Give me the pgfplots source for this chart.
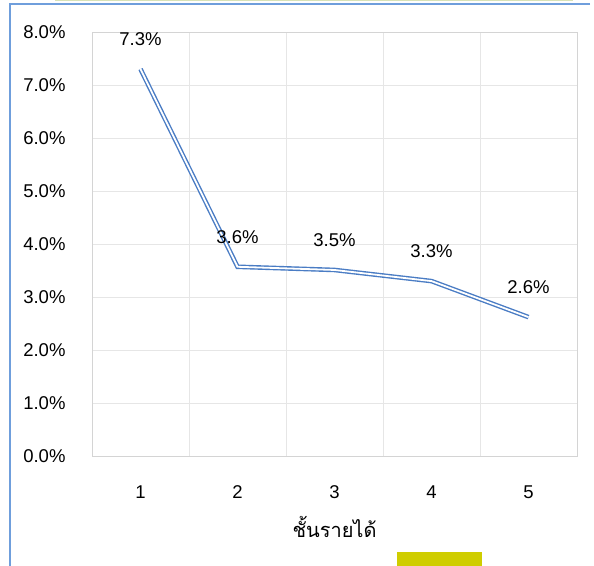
\documentclass[border=0pt]{standalone}
\usepackage{pgfplots}
\pgfplotsset{compat=1.18}
\usepackage{fontspec}
\setmainfont{Liberation Sans}
\newfontfamily\thaifont[Script=Thai]{Loma}
\definecolor{lineblue}{HTML}{4A7CC4}
\definecolor{frameblue}{HTML}{6F9EDC}
\definecolor{palegreen}{HTML}{D8E2B8}
\definecolor{mustard}{HTML}{CFCD00}
\definecolor{gridgray}{HTML}{E6E6E6}
\definecolor{axisgray}{HTML}{D4D4D4}
\begin{document}
\begin{tikzpicture}[x=1bp,y=1bp]
\useasboundingbox (0,0) rectangle (594,566);
\fill[palegreen] (55,564.8) rectangle (573,566);
\draw[frameblue, line width=1.5bp] (590,562) -- (10,562) -- (10,0);
\fill[mustard] (397,0) rectangle (482,14);
\begin{axis}[
  at={(92bp,110bp)}, anchor=south west,
  scale only axis, width=485bp, height=424bp,
  xmin=0.5, xmax=5.5, ymin=0, ymax=8,
  xtick={1,2,3,4,5},
  minor xtick={0.5,1.5,2.5,3.5,4.5,5.5},
  ytick={0,1,2,3,4,5,6,7,8},
  major tick length=0pt, minor tick length=0pt,
  ymajorgrids, xminorgrids,
  grid style={draw=gridgray, line width=0.8bp},
  minor grid style={draw=gridgray, line width=0.8bp},
  axis line style={draw=axisgray, line width=0.8bp},
  /pgf/number format/assume math mode=true,
  yticklabel={\pgfmathprintnumber[fixed,fixed zerofill,precision=1]{\tick}\%},
  xticklabel={\pgfmathprintnumber[fixed,precision=0]{\tick}},
  every tick label/.append style={font=\fontsize{18.5bp}{22bp}\selectfont, text=black},
  every y tick label/.append style={xshift=-23bp},
  every x tick label/.append style={yshift=-26bp},
  xlabel={\thaifont ชั้นรายได้},
  every axis x label/.style={at={(axis description cs:0.5,0)}, anchor=center, yshift=-71bp, font=\fontsize{20bp}{23bp}\selectfont},
  clip=false,
]
\addplot[draw=lineblue, double=white, double distance=1.8bp, line width=1.4bp, mark=none,
  nodes near coords, point meta=explicit symbolic,
  nodes near coords style={anchor=center, yshift=30bp, text=black, font=\fontsize{18.5bp}{22bp}\selectfont}]
  coordinates {(1,7.30)[7.3\%] (2,3.57)[3.6\%] (3,3.51)[3.5\%] (4,3.30)[3.3\%] (5,2.62)[2.6\%]};
\end{axis}
\end{tikzpicture}
\end{document}
